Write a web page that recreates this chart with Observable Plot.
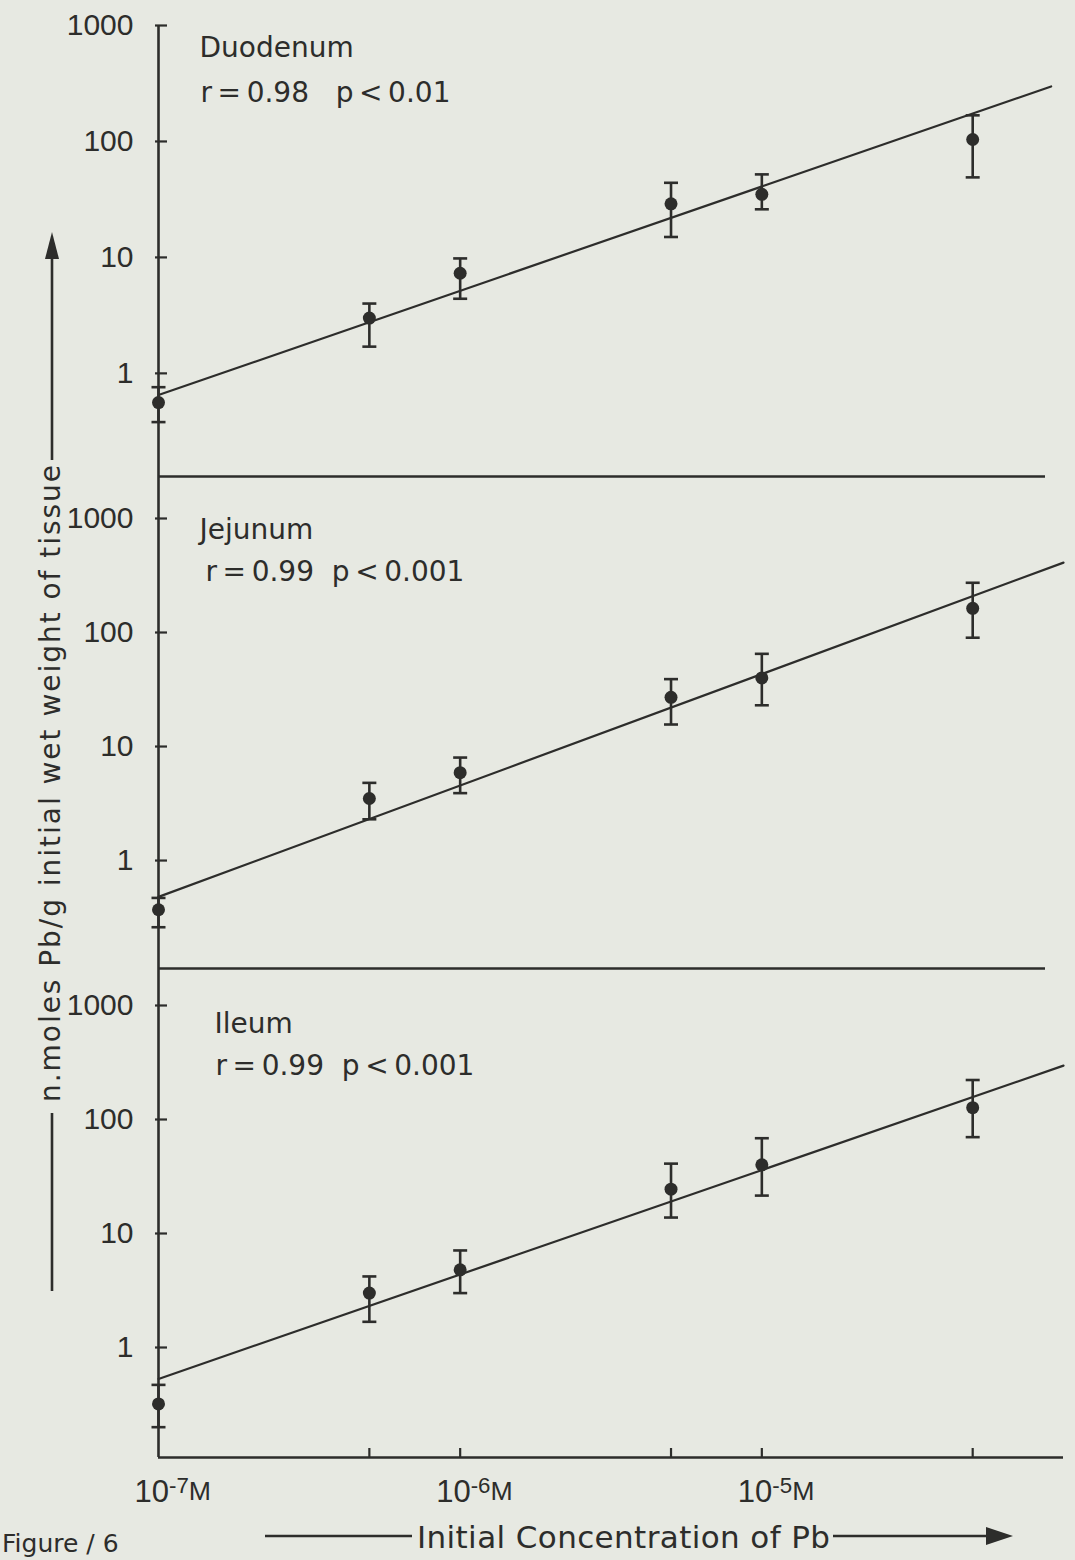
<!DOCTYPE html>
<html>
<head>
<meta charset="utf-8">
<script src="https://cdn.jsdelivr.net/npm/d3@7"></script>
<script src="https://cdn.jsdelivr.net/npm/@observablehq/plot@0.6"></script>
<style>
  html, body { margin: 0; padding: 0; background: #e7e9e2; overflow: hidden; }
  #page { position: relative; width: 1075px; height: 1560px; background: #e7e9e2; overflow: hidden; }
  #page > svg { position: absolute; left: 0; }
</style>
</head>
<body>
<div id="page"></div>
<script>
// ---------------- data ----------------
const concentrations = [1e-7, 5e-7, 1e-6, 5e-6, 1e-5, 5e-5];   // M
const tissues = ["Duodenum", "Jejunum", "Ileum"];
const statLabels = [
  "r\u2009=\u20090.98\u00a0\u00a0\u00a0p\u2009<\u20090.01",
  "r\u2009=\u20090.99\u00a0\u00a0p\u2009<\u20090.001",
  "r\u2009=\u20090.99\u00a0\u00a0p\u2009<\u20090.001"
];

const duodenumMean = [0.56, 3.0, 7.3, 29, 35, 104];
const duodenumLow  = [0.38, 1.7, 4.4, 15, 26, 49];
const duodenumHigh = [0.76, 4.0, 9.8, 44, 52, 168];

const jejunumMean = [0.37, 3.5, 5.9, 27, 40, 163];
const jejunumLow  = [0.26, 2.3, 3.9, 15.6, 23, 90];
const jejunumHigh = [0.47, 4.8, 8.0, 39, 65, 273];

const ileumMean = [0.32, 3.0, 4.8, 24.5, 40, 127];
const ileumLow  = [0.20, 1.68, 3.0, 13.8, 21.5, 70];
const ileumHigh = [0.47, 4.2, 7.1, 41, 68.5, 222];

// regression lines: end points
const fitConcDuodenum = [1e-7, 9.1e-5];
const fitDuodenum     = [0.65, 298];
const fitConcJejunum  = [1e-7, 1e-4];
const fitJejunum      = [0.48, 410];
const fitConcIleum    = [1e-7, 1e-4];
const fitIleum        = [0.53, 297];

const yTickValues = [1, 10, 100, 1000];
const yTickLabels = ["1", "10", "100", "1000"];
const xLabelValues = [1e-7, 1e-6, 1e-5];
const xLabelExponents = ["-7", "-6", "-5"];
const xTickValues = [5e-7, 1e-6, 5e-6, 1e-5, 5e-5];
const yTitle = "n.moles Pb/g initial wet weight of tissue";
const xTitle = "Initial Concentration of Pb";
const figureLabel = "Figure / 6";

// ---------------- styling ----------------
const INK = "#2d2d2b";
const TEXT_FONT = "'DejaVu Sans', sans-serif";
const NUM_FONT = "'Liberation Sans Narrow', 'Liberation Sans', 'DejaVu Sans', sans-serif";
const WIDTH = 1075, ML = 158, MR = 12, FRAME_W = WIDTH - ML - MR;

const capSymbol = {
  draw(context, size) {
    const r = Math.sqrt(size / Math.PI);
    context.moveTo(-r, 0);
    context.lineTo(r, 0);
  }
};

function makeRows(mean, low, high) {
  return concentrations.map((c, i) => ({conc: c, mean: mean[i], low: low[i], high: high[i]}));
}
function makeFit(cs, vs) {
  return cs.map((c, i) => ({conc: c, value: vs[i]}));
}

function panel(cfg) {
  const marks = [
    Plot.ruleX([concentrations[0]], {stroke: INK, strokeWidth: 2.6}),
    Plot.ruleY([cfg.yDomain[0]], {stroke: INK, strokeWidth: 2.6, insetRight: cfg.separatorInset}),
    Plot.axisY(yTickValues, {
      tickSize: 0, tickPadding: 25,
      tickFormat: d => yTickLabels[yTickValues.indexOf(d)],
      fontSize: 30, fontFamily: NUM_FONT
    }),
    Plot.tickY(yTickValues, {y: d => d, stroke: INK, strokeWidth: 2.2, insetLeft: -3, insetRight: FRAME_W - 9}),
    Plot.line(cfg.fit, {x: "conc", y: "value", stroke: INK, strokeWidth: 2.2}),
    Plot.ruleX(cfg.rows, {x: "conc", y1: "low", y2: "high", stroke: INK, strokeWidth: 2.6}),
    Plot.dot(cfg.rows, {x: "conc", y: "low", symbol: capSymbol, r: 7, stroke: INK, strokeWidth: 2.6, fill: "none"}),
    Plot.dot(cfg.rows, {x: "conc", y: "high", symbol: capSymbol, r: 7, stroke: INK, strokeWidth: 2.6, fill: "none"}),
    Plot.dot(cfg.rows, {x: "conc", y: "mean", r: 6.5, fill: INK, stroke: "none"}),
    Plot.text([cfg.tissue], {text: d => d, frameAnchor: "top-left", dx: cfg.nameDx, dy: cfg.nameDy,
      textAnchor: "start", lineAnchor: "bottom", fontSize: 28, fontFamily: TEXT_FONT}),
    Plot.text([cfg.stat], {text: d => d, frameAnchor: "top-left", dx: cfg.statDx, dy: cfg.statDy,
      textAnchor: "start", lineAnchor: "bottom", fontSize: 28, fontFamily: TEXT_FONT})
  ];
  if (cfg.xAxis) {
    marks.push(
      Plot.tickX(xTickValues, {x: d => d, stroke: INK, strokeWidth: 2.2, insetTop: cfg.frameHeight - 9}),
      Plot.axisX(xLabelValues, {
        tickSize: 0, tickPadding: 22, label: null,
        tickFormat: d => "10" + xLabelExponents[xLabelValues.indexOf(d)] + "M",
        textAnchor: "start", dx: -24, fontSize: 31, fontFamily: NUM_FONT
      })
    );
  }
  const svg = Plot.plot({
    width: WIDTH,
    height: cfg.marginTop + cfg.frameHeight + cfg.marginBottom,
    marginLeft: ML, marginRight: MR, marginTop: cfg.marginTop, marginBottom: cfg.marginBottom,
    style: {background: "transparent", color: INK, fontFamily: TEXT_FONT, fontSize: "28px", overflow: "visible"},
    x: {type: "log", domain: [1e-7, 1e-4], label: null, axis: cfg.xAxis ? undefined : null},
    y: {type: "log", domain: cfg.yDomain, label: null},
    marks
  });
  svg.style.position = "absolute";
  svg.style.top = cfg.top + "px";
  svg.style.left = "0px";
  if (cfg.xAxis) {
    d3.select(svg).selectAll('g[aria-label="x-axis tick label"] text').each(function () {
      const s = this.textContent;
      const m = s.match(/^(10)(-\d)(M)$/);
      if (!m) return;
      const t = d3.select(this);
      t.text(null);
      t.append("tspan").text(m[1]);
      t.append("tspan").attr("dy", "-0.4em").attr("font-size", "0.72em").text(m[2]);
      t.append("tspan").attr("dy", "0.29em").attr("font-size", "0.86em").text(m[3]);
    });
  }
  return svg;
}

const page = document.getElementById("page");

page.appendChild(panel({
  tissue: tissues[0], stat: statLabels[0],
  rows: makeRows(duodenumMean, duodenumLow, duodenumHigh),
  fit: makeFit(fitConcDuodenum, fitDuodenum),
  yDomain: [0.129, 1000], top: 0, marginTop: 25, frameHeight: 451, marginBottom: 4,
  separatorInset: 18, nameDx: 41, nameDy: 31, statDx: 42, statDy: 76, xAxis: false
}));
page.appendChild(panel({
  tissue: tissues[1], stat: statLabels[1],
  rows: makeRows(jejunumMean, jejunumLow, jejunumHigh),
  fit: makeFit(fitConcJejunum, fitJejunum),
  yDomain: [0.113, 2335], top: 476, marginTop: 0, frameHeight: 492, marginBottom: 4,
  separatorInset: 18, nameDx: 41, nameDy: 62, statDx: 47, statDy: 104, xAxis: false
}));
page.appendChild(panel({
  tissue: tissues[2], stat: statLabels[2],
  rows: makeRows(ileumMean, ileumLow, ileumHigh),
  fit: makeFit(fitConcIleum, fitIleum),
  yDomain: [0.1084, 2111], top: 968, marginTop: 0, frameHeight: 489, marginBottom: 60,
  separatorInset: 0, nameDx: 56, nameDy: 64, statDx: 57, statDy: 106, xAxis: true
}));

// ---------------- axis titles with arrows ----------------
const deco = d3.select(page).append("svg")
  .attr("width", WIDTH).attr("height", 1560)
  .style("position", "absolute").style("top", "0px").style("left", "0px")
  .style("overflow", "hidden");

// y title (reads bottom to top)
deco.append("line").attr("x1", 52).attr("x2", 52).attr("y1", 1291).attr("y2", 1113)
  .attr("stroke", INK).attr("stroke-width", 2.6);
deco.append("text")
  .attr("transform", "translate(60,1102) rotate(-90)")
  .attr("font-family", TEXT_FONT).attr("font-size", 28).attr("fill", INK)
  .attr("textLength", 637).attr("lengthAdjust", "spacing")
  .text(yTitle);
deco.append("line").attr("x1", 52).attr("x2", 52).attr("y1", 460).attr("y2", 256)
  .attr("stroke", INK).attr("stroke-width", 2.6);
deco.append("polygon").attr("points", "52,232 45,259 59,259").attr("fill", INK);

// x title
deco.append("line").attr("x1", 265).attr("x2", 412).attr("y1", 1536).attr("y2", 1536)
  .attr("stroke", INK).attr("stroke-width", 2.6);
deco.append("text")
  .attr("x", 417).attr("y", 1548)
  .attr("font-family", TEXT_FONT).attr("font-size", 31).attr("fill", INK)
  .attr("textLength", 413).attr("lengthAdjust", "spacing")
  .text(xTitle);
deco.append("line").attr("x1", 833).attr("x2", 990).attr("y1", 1536).attr("y2", 1536)
  .attr("stroke", INK).attr("stroke-width", 2.6);
deco.append("polygon").attr("points", "1013,1536 986,1527 986,1545").attr("fill", INK);

// figure number at the bottom-left corner
deco.append("text")
  .attr("x", 2).attr("y", 1552)
  .attr("font-family", TEXT_FONT).attr("font-size", 25).attr("fill", INK)
  .text(figureLabel);
</script>
</body>
</html>
